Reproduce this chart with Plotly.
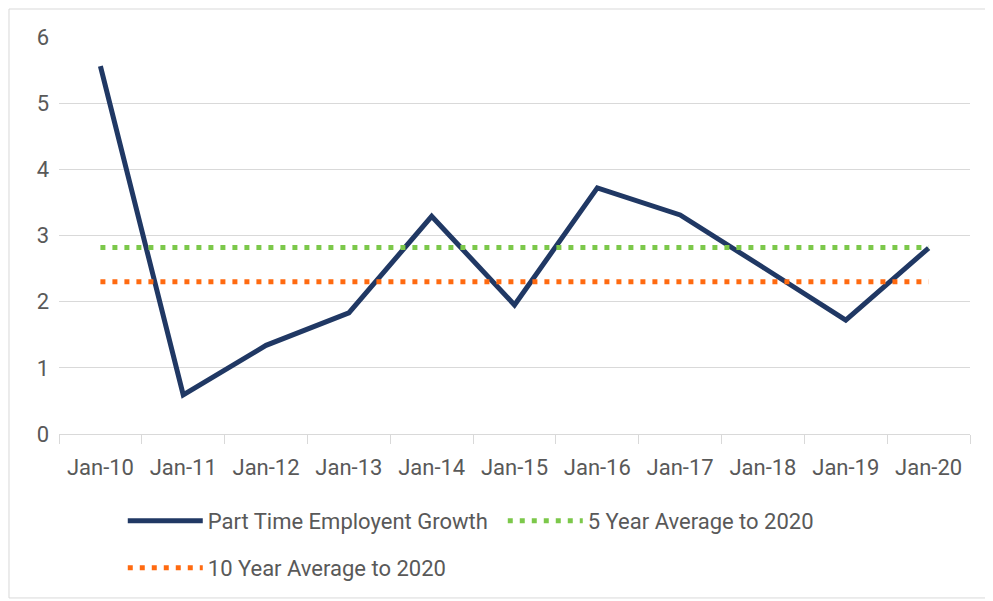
import plotly.graph_objects as go

# categories and values
months = ["Jan-10", "Jan-11", "Jan-12", "Jan-13", "Jan-14", "Jan-15",
          "Jan-16", "Jan-17", "Jan-18", "Jan-19", "Jan-20"]
part_time_growth = [5.56, 0.59, 1.34, 1.83, 3.29, 1.95, 3.72, 3.31, 2.52, 1.72, 2.81]
avg_5yr = [2.82, 2.82, 2.82, 2.82, 2.82, 2.82, 2.82, 2.82, 2.82, 2.82, 2.82]
avg_10yr = [2.30, 2.30, 2.30, 2.30, 2.30, 2.30, 2.30, 2.30, 2.30, 2.30, 2.30]
y_ticks = [0, 1, 2, 3, 4, 5, 6]

FONT = "Roboto, sans-serif"
GREY = "#595959"
GRID = "#d9d9d9"

fig = go.Figure()
fig.add_trace(go.Scatter(
    x=months, y=part_time_growth, mode="lines",
    name="Part Time Employent Growth",
    line=dict(color="#203864", width=5),
    legend="legend",
))
fig.add_trace(go.Scatter(
    x=months, y=avg_5yr, mode="lines",
    name="5 Year Average to 2020",
    line=dict(color="#7CC84A", width=5, dash="5px,7px"),
    legend="legend",
))
fig.add_trace(go.Scatter(
    x=months, y=avg_10yr, mode="lines",
    name="10 Year Average to 2020",
    line=dict(color="#FF6A10", width=5, dash="5px,7px"),
    legend="legend2",
))

legend_style = dict(
    orientation="h",
    x=0.07,
    xanchor="left",
    yanchor="middle",
    entrywidth=290,
    entrywidthmode="pixels",
    font=dict(size=22, color=GREY),
    itemwidth=75,
)

# the page body has an 8px margin, so the figure is drawn 8px smaller
fig.update_layout(
    width=985,
    height=593,
    margin=dict(l=51, r=23, t=29, b=167),
    paper_bgcolor="white",
    plot_bgcolor="white",
    font=dict(family=FONT, size=22, color=GREY),
    xaxis=dict(
        type="category",
        range=[-0.5, 10.5],
        tickson="boundaries",
        ticks="outside",
        ticklen=9,
        tickcolor=GRID,
        showline=True,
        linecolor=GRID,
        linewidth=1,
        showgrid=False,
        ticklabelstandoff=14,
        tickfont=dict(size=22, color=GREY),
        fixedrange=True,
    ),
    yaxis=dict(
        range=[0, 6],
        tickvals=y_ticks,
        showgrid=True,
        gridcolor=GRID,
        gridwidth=1,
        zeroline=False,
        showline=False,
        ticks="",
        ticklabelstandoff=9,
        tickfont=dict(size=22, color=GREY),
        fixedrange=True,
    ),
    legend=dict(legend_style, y=-0.219),
    legend2=dict(legend_style, y=-0.3375),
    shapes=[dict(
        type="rect", xref="paper", yref="paper",
        x0=-0.0549, x1=1.022, y0=-0.413, y1=1.0705,
        line=dict(color=GRID, width=1),
    )],
)

fig.write_html("out.html")
